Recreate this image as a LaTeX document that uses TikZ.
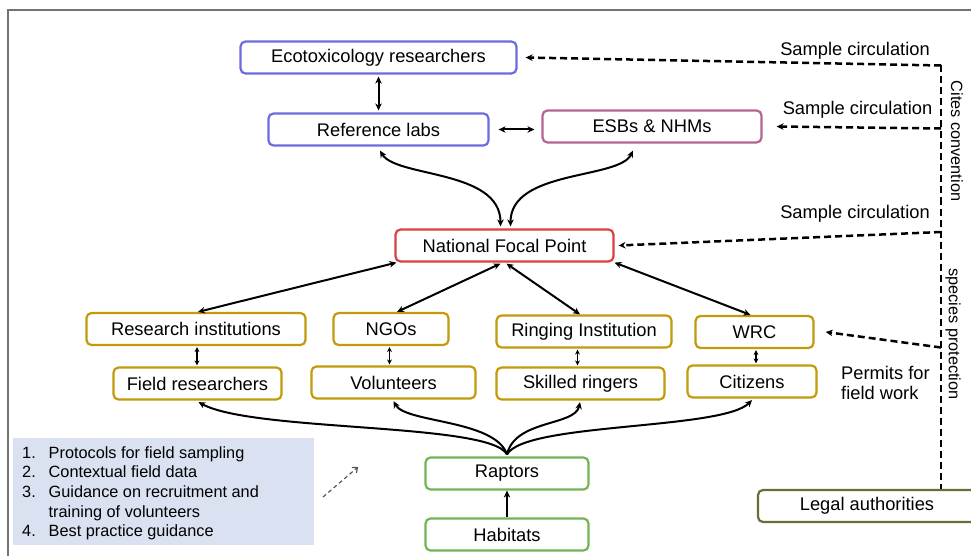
\documentclass[tikz,border=0pt]{standalone}
\usepackage{fontspec}
\setmainfont{Liberation Sans}
\usetikzlibrary{arrows.meta,calc}
\definecolor{cblue}{HTML}{6B6BE0}
\definecolor{cpink}{HTML}{B5648F}
\definecolor{cred}{HTML}{DC4040}
\definecolor{cgold}{HTML}{C29A0A}
\definecolor{cgreen}{HTML}{72B554}
\definecolor{colive}{HTML}{6E6C36}
\definecolor{cboxfill}{HTML}{DAE2F2}
\definecolor{cframe}{HTML}{737373}
\definecolor{cgrayarrow}{HTML}{555555}
\begin{document}
\begin{tikzpicture}[x=1pt,y=-1pt,
  box/.style={draw, line width=2.2pt, rounded corners=5pt, fill=white,
    font=\fontsize{18.3}{21}\selectfont, inner sep=0pt, minimum height=32pt},
  bi/.style={line width=2pt, {Stealth[length=7pt,width=6.5pt]}-{Stealth[length=7pt,width=6.5pt]}},
  bis/.style={line width=1.8pt, {Stealth[length=5pt,width=5pt]}-{Stealth[length=5pt,width=5pt]}},
  uni/.style={line width=2pt, -{Stealth[length=7pt,width=6.5pt]}},
  dsh/.style={line width=2.5pt, dash pattern=on 7pt off 4pt, -{Stealth[length=7pt,width=6.5pt]}},
  dshline/.style={line width=2.5pt, dash pattern=on 7pt off 4pt},
  lbl/.style={font=\fontsize{18.3}{21}\selectfont, inner sep=0pt},
  rot/.style={font=\fontsize{16.3}{19}\selectfont, inner sep=0pt, rotate=-90},
  item/.style={font=\fontsize{16.3}{19}\selectfont, inner sep=0pt, anchor=base west}]

\useasboundingbox (0,0) rectangle (971,556);
\draw[cframe, line width=2pt] (8,560) -- (8,10) -- (975,10);

% nodes
\node[box, draw=cblue, minimum width=276pt] (eco) at (378.5,57.5) {Ecotoxicology researchers};
\node[box, draw=cblue, minimum width=220pt] (rl) at (378.5,129.5) {Reference labs};
\node[box, draw=cpink, minimum width=219pt] (esb) at (652,126.5) {ESBs \& NHMs};
\node[box, draw=cred, minimum width=218pt] (nfp) at (504.5,245.5) {National Focal Point};
\node[box, draw=cgold, minimum width=219pt] (ri) at (196,329) {Research institutions};
\node[box, draw=cgold, minimum width=115pt] (ngo) at (391,329) {NGOs};
\node[box, draw=cgold, minimum width=175pt] (ring) at (584,331.5) {Ringing Institution};
\node[box, draw=cgold, minimum width=118pt] (wrc) at (754.5,332) {WRC};
\node[box, draw=cgold, minimum width=168pt] (fr) at (197.5,383.5) {Field researchers};
\node[box, draw=cgold, minimum width=164pt] (vol) at (393.5,382.5) {Volunteers};
\node[box, draw=cgold, minimum width=168pt] (sk) at (580.5,383.5) {Skilled ringers};
\node[box, draw=cgold, minimum width=129pt] (cit) at (752,381.5) {Citizens};
\node[box, draw=cgreen, minimum width=163pt] (rap) at (507,473.5) {Raptors};
\node[box, draw=cgreen, minimum width=163pt] (hab) at (507,534.5) {Habitats};
\node[box, draw=colive, minimum width=218pt] (legal) at (867,506) {Legal authorities};

% info box
\node[fill=cboxfill, minimum width=301pt, minimum height=107pt, inner sep=0pt] (info) at (163.5,491.5) {};
\node[item] (n1) at (22,458.5) {1.};
\node[item] (t1) at (48.5,458.5) {Protocols for field sampling};
\node[item] (n2) at (22,477.5) {2.};
\node[item] (t2) at (48.5,477.5) {Contextual field data};
\node[item] (n3) at (22,497) {3.};
\node[item] (t3) at (48.5,497) {Guidance on recruitment and};
\node[item] (t3b) at (48.5,517) {training of volunteers};
\node[item] (n4) at (22,536.5) {4.};
\node[item] (t4) at (48.5,536.5) {Best practice guidance};
\coordinate (ga) at (323,497);
\coordinate (gb) at (358,467);
\draw[cgrayarrow, line width=1.2pt, dash pattern=on 4pt off 3pt, -{Straight Barb[length=4pt,width=7pt]}] (ga) -- (gb);

% labels
\node[lbl] (sc1) at (855,50.5) {Sample circulation};
\node[lbl] (sc2) at (857.5,110) {Sample circulation};
\node[lbl] (sc3) at (855,213.5) {Sample circulation};
\node[lbl, align=left, anchor=west] (perm) at (841,382.5) {Permits for\\[-1pt]field work};
\node[rot] (cites) at (957,141) {Cites convention};
\node[rot] (spec) at (953,334) {species protection};

% solid connectors
\draw[bi, shorten <=2pt, shorten >=2pt] (eco.south) -- (rl.north);
\draw[bi, shorten <=9pt, shorten >=7pt] (rl.east) -- (rl.east -| esb.west);
\draw[bi] ($(rl.south)+(1.5,4)$) .. controls +(16,27) and +(0,-57) .. ($(nfp.north)+(-4,-2)$);
\draw[bi] ($(esb.south)+(-19,7)$) .. controls +(-14,29) and +(0,-57) .. ($(nfp.north)+(6,-2)$);
\draw[bi] ($(nfp.south west)+(2,0)$) -- ($(ri.north)+(2,0)$);
\draw[bi] ($(nfp.south)+(-4,1)$) -- ($(ngo.north)+(6,0)$);
\draw[bi] ($(nfp.south)+(2,1)$) -- ($(ring.north)+(-4,0)$);
\draw[bi] (nfp.south east) -- ($(wrc.north)+(-4,0)$);
\coordinate (a1) at ($(ri.south)+(1,1)$);
\coordinate (a2) at ($(fr.north)+(0,-1)$);
\draw[bis] (a1) -- (a1 |- a2);
\coordinate (b1) at ($(ngo.south)+(-1.5,1)$);
\coordinate (b2) at ($(vol.north)+(0,-1)$);
\draw[bis] (b1) -- (b1 |- b2);
\coordinate (c1) at ($(ring.south)+(-6.5,1)$);
\coordinate (c2) at ($(sk.north)+(0,-1)$);
\draw[bis] (c1) -- (c1 |- c2);
\coordinate (d1) at ($(wrc.south)+(1.5,1)$);
\coordinate (d2) at ($(cit.north)+(0,-1)$);
\draw[bis] (d1) -- (d1 |- d2);
\coordinate (rt) at ($(rap.north)+(0,-2)$);
\draw[uni] (rt) .. controls +(-17,-32) and +(55,30) .. ($(fr.south)+(1,1.5)$);
\draw[uni] (rt) .. controls +(-12,-35) and +(12,22) .. ($(vol.south)+(0,1.5)$);
\draw[uni] (rt) .. controls +(8,-35) and +(-5,24) .. ($(sk.south)+(-0.5,1.5)$);
\draw[uni] (rt) .. controls +(18,-32) and +(-30,30) .. ($(cit.south)+(0,1.5)$);
\draw[uni] (hab.north) -- (rap.south);

% dashed connectors
\coordinate (vtop) at (941,65.5);
\draw[dshline] (vtop) -- (vtop |- legal.north);
\draw[dsh] (vtop) -- ($(eco.east)+(8,0)$ |- vtop);
\draw[dsh] (vtop |- 0,128.5) -- ($(esb.east)+(14,0)$ |- 0,128.5);
\draw[dsh] (vtop |- 0,232) -- ($(nfp.east)+(4,0)$ |- 0,232);
\draw[dsh] (vtop |- 0,347.5) -- ($(wrc.east)+(11,0)$ |- 0,347.5);
\end{tikzpicture}
\end{document}
